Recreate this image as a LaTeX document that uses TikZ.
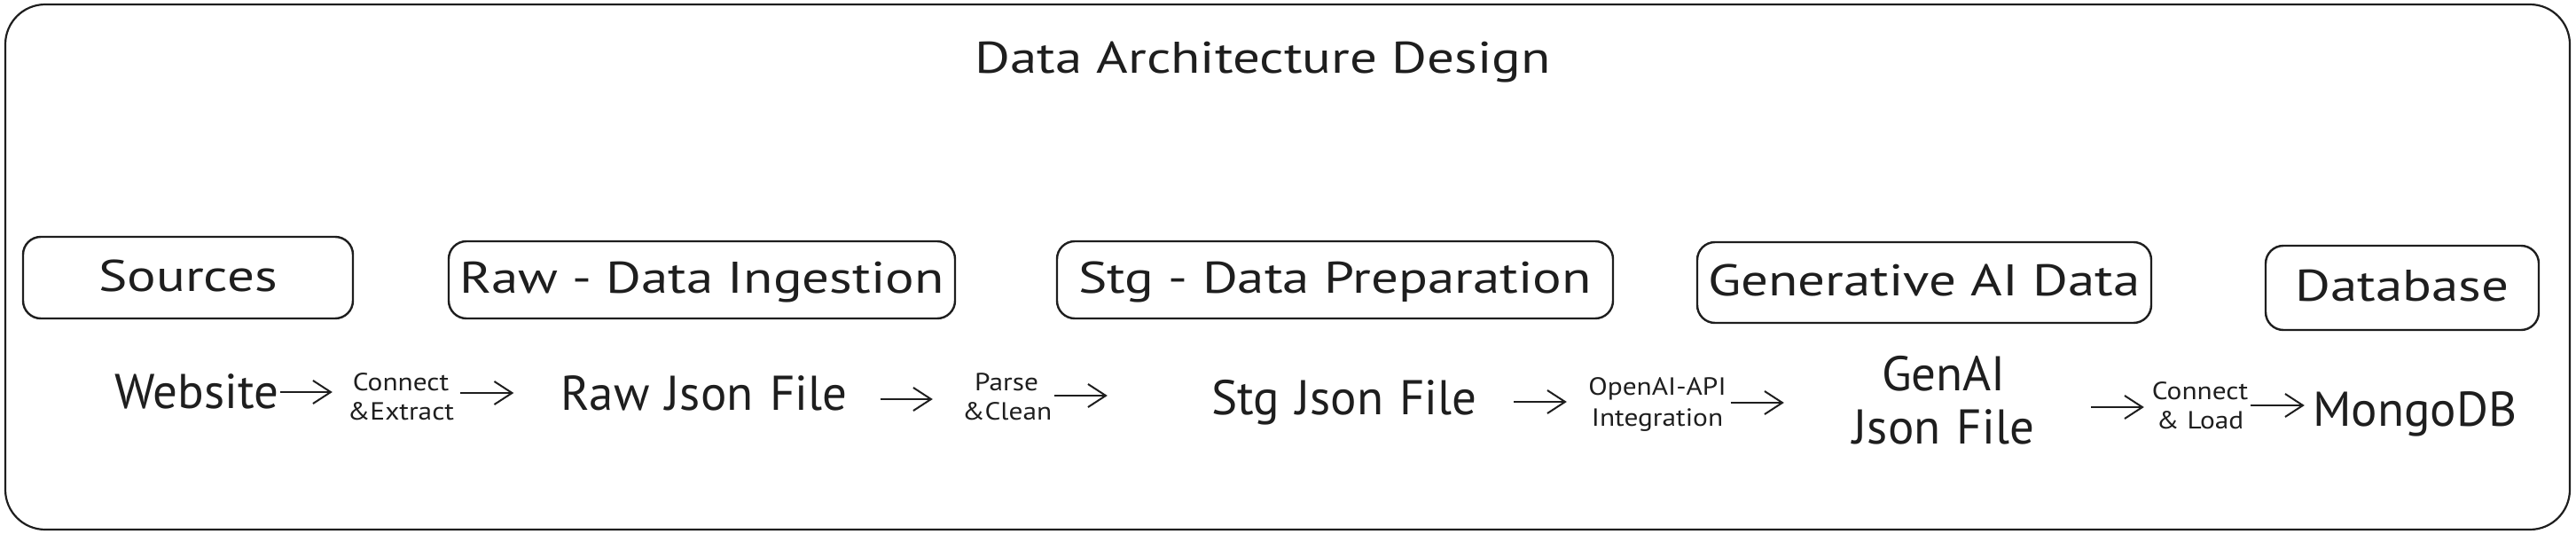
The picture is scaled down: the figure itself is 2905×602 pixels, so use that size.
\documentclass[tikz,border=0pt]{standalone}
\usepackage{fontspec}
\setmainfont{PT Sans}
\newfontfamily\widefont{PT Sans}[FakeStretch=1.22]
\newfontfamily\smallwide{PT Sans}[FakeStretch=1.12]
\usetikzlibrary{arrows.meta}
\definecolor{ink}{HTML}{1E1E1E}
\tikzset{
  frame/.style={draw=ink, line width=2.2pt, rounded corners=45pt},
  stage/.style={draw=ink, line width=2.4pt, rounded corners=20pt, inner sep=0pt,
    text=ink, text height=36pt, text depth=6pt, font=\widefont\fontsize{50}{56}\selectfont},
  titlelbl/.style={text=ink, inner sep=0pt, anchor=base, font=\widefont\fontsize{50}{56}\selectfont},
  biglbl/.style={text=ink, inner sep=0pt, anchor=base, align=center, font=\fontsize{55}{60}\selectfont},
  smalllbl/.style={text=ink, inner sep=0pt, anchor=base, align=center, font=\smallwide\fontsize{28}{33}\selectfont},
  arr/.style={draw=ink, line width=2pt, -{Straight Barb[length=20pt,width=26pt,line width=2pt]}}
}
\begin{document}
\begin{tikzpicture}[x=1pt,y=-1pt]
\useasboundingbox (0,0) rectangle (2905,602);
% outer frame
\draw[frame] (6,5) rectangle (2898,597);
% title
\node[titlelbl] (title) at (1424,82) {Data Architecture Design};
% stage boxes
\node[stage, minimum width=372pt, minimum height=92pt] (sources) at (212,313) {Sources};
\node[stage, minimum width=571pt, minimum height=87pt] (rawbox) at (791.5,315.5) {Raw - Data Ingestion};
\node[stage, minimum width=627pt, minimum height=87pt] (stgbox) at (1505.5,315.5) {Stg - Data Preparation};
\node[stage, minimum width=512pt, minimum height=91pt] (genbox) at (2170,318.5) {Generative AI Data};
\node[stage, minimum width=308pt, minimum height=95pt] (dbbox) at (2709,324.5) {Database};
% flow labels
\node[biglbl, text width=179pt] (web) at (219,460) {Website};
\node[smalllbl, text width=130pt] (ce) at (452,440) {Connect\\\&Extract};
\node[biglbl, text width=333pt] (raw) at (794,462) {Raw Json File};
\node[smalllbl, text width=100pt] (pc) at (1135,440) {Parse\\\&Clean};
\node[biglbl, text width=322pt] (stg) at (1516,467) {Stg Json File};
\node[smalllbl, text width=165pt, font=\smallwide\fontsize{28}{35}\selectfont] (oai) at (1869,445) {OpenAI-API\\Integration};
\node[biglbl, text width=211pt, font=\fontsize{55}{60}\selectfont] (gen) at (2192,440) {GenAI\\Json File};
\node[smalllbl, text width=112pt] (cl) at (2481,450) {Connect\\\& Load};
\node[biglbl, text width=212pt] (mdb) at (2714,480) {MongoDB};
% connectors
\draw[arr] ([xshift=7.5pt]web.east |- 0,442) -- ([xshift=-12pt]ce.west |- 0,442);
\draw[arr] ([xshift=2pt]ce.east |- 0,443) -- ([xshift=-48pt]raw.west |- 0,443);
\draw[arr] ([xshift=32pt]raw.east |- 0,450) -- ([xshift=-33pt]pc.west |- 0,450);
\draw[arr] ([xshift=4pt]pc.east |- 0,446) -- ([xshift=-106pt]stg.west |- 0,446);
\draw[arr] ([xshift=30pt]stg.east |- 0,453) -- ([xshift=-19.5pt]oai.west |- 0,453);
\draw[arr] (oai.east |- 0,454) -- ([xshift=-74.5pt]gen.west |- 0,454);
\draw[arr] ([xshift=60.5pt]gen.east |- 0,459) -- ([xshift=-7pt]cl.west |- 0,459);
\draw[arr] ([xshift=1pt]cl.east |- 0,457) -- ([xshift=-9pt]mdb.west |- 0,457);
\end{tikzpicture}
\end{document}
